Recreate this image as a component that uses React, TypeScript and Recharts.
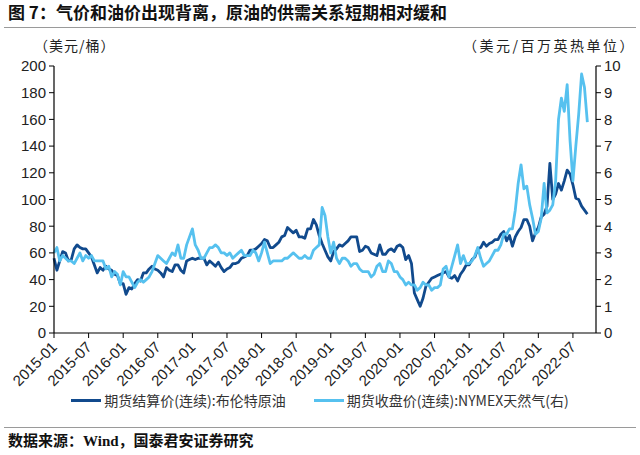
import React from 'react';
import { LineChart, Line, XAxis, YAxis } from 'recharts';

const title = '图 7：气价和油价出现背离，原油的供需关系短期相对缓和';
const leftUnit = '（美元/桶）';
const rightUnit = '（美元/百万英热单位）';
const source = '数据来源：Wind，国泰君安证券研究';
const seriesNames = ['期货结算价(连续):布伦特原油', '期货收盘价(连续):NYMEX天然气(右)'];
const seriesColors = ['#114a8d', '#56c1ef'];

const years = [2015, 2016, 2017, 2018, 2019, 2020, 2021, 2022];

// Brent settlement, USD/bbl — readings on the 1st and 16th of each month
const brent2015 = [56, 47, 54, 61, 60, 54, 55, 63, 66, 64, 63, 63, 60, 57, 51, 45, 49, 47, 50, 48, 47, 44, 43, 37];
const brent2016 = [37, 29, 34, 33, 37, 40, 39, 45, 45, 48, 50, 48, 47, 45, 42, 49, 47, 46, 51, 51, 47, 45, 54, 55];
const brent2017 = [56, 55, 56, 56, 56, 51, 54, 52, 50, 53, 49, 46, 48, 49, 52, 52, 53, 56, 57, 58, 62, 62, 63, 65];
const brent2018 = [67, 70, 69, 64, 64, 66, 68, 72, 73, 79, 77, 75, 77, 72, 72, 71, 78, 78, 85, 81, 73, 67, 62, 57];
const brent2019 = [54, 61, 63, 66, 65, 67, 69, 72, 72, 72, 61, 62, 65, 64, 60, 59, 58, 66, 59, 59, 62, 63, 61, 65];
const brent2020 = [66, 64, 55, 58, 52, 30, 25, 20, 26, 35, 38, 41, 42, 43, 44, 45, 46, 42, 41, 43, 39, 44, 47, 51];
const brent2021 = [51, 55, 57, 63, 64, 68, 65, 67, 68, 70, 70, 74, 76, 69, 73, 65, 72, 76, 79, 85, 85, 80, 69, 75];
const brent2022 = [79, 87, 89, 95, 127, 100, 104, 112, 107, 114, 122, 119, 111, 101, 100, 95, 92, 89];

// NYMEX natural gas close, USD/MMBtu — same reading dates
const gas2015 = [3.0, 3.2, 2.7, 2.9, 2.8, 2.7, 2.7, 2.6, 2.8, 3.0, 2.7, 2.9, 2.8, 2.9, 2.7, 2.7, 2.7, 2.7, 2.4, 2.5, 2.1, 2.3, 2.2, 1.8];
const gas2016 = [2.3, 2.1, 2.1, 1.9, 1.7, 1.9, 2.0, 1.9, 2.0, 2.1, 2.3, 2.6, 2.9, 2.8, 2.7, 2.6, 2.8, 3.0, 2.9, 3.3, 2.8, 2.8, 3.3, 3.6];
const gas2017 = [3.9, 3.3, 3.1, 2.8, 2.8, 3.0, 3.2, 3.2, 3.3, 3.2, 3.0, 3.0, 2.9, 3.0, 2.8, 2.9, 3.0, 3.1, 2.9, 2.9, 2.9, 3.1, 3.0, 2.7];
const gas2018 = [3.0, 3.4, 3.0, 2.6, 2.7, 2.7, 2.7, 2.7, 2.8, 2.8, 2.9, 3.0, 2.9, 2.8, 2.8, 2.9, 2.8, 2.8, 3.1, 3.2, 3.3, 4.7, 4.4, 3.6];
const gas2019 = [3.0, 3.4, 2.8, 2.6, 2.8, 2.8, 2.7, 2.5, 2.6, 2.6, 2.4, 2.3, 2.3, 2.3, 2.1, 2.2, 2.5, 2.6, 2.3, 2.3, 2.7, 2.6, 2.3, 2.3];
const gas2020 = [2.1, 2.0, 1.8, 1.9, 1.8, 1.8, 1.6, 1.7, 1.9, 1.8, 1.8, 1.6, 1.7, 1.7, 1.8, 2.4, 2.5, 2.1, 2.5, 2.9, 3.3, 2.6, 2.9, 2.6];
const gas2021 = [2.6, 2.7, 2.9, 3.2, 2.8, 2.5, 2.6, 2.7, 2.9, 3.1, 3.1, 3.3, 3.7, 3.7, 3.9, 3.9, 4.6, 5.6, 6.3, 5.4, 5.5, 4.8, 4.3, 3.7];
const gas2022 = [3.8, 4.3, 5.6, 4.5, 4.6, 4.8, 5.7, 8.0, 8.8, 8.3, 9.3, 7.2, 5.7, 7.0, 8.2, 9.7, 9.2, 7.9];

const brentByYear = [brent2015, brent2016, brent2017, brent2018, brent2019, brent2020, brent2021, brent2022];
const gasByYear = [gas2015, gas2016, gas2017, gas2018, gas2019, gas2020, gas2021, gas2022];

const xTickLabels = [
  '2015-01', '2015-07', '2016-01', '2016-07', '2017-01', '2017-07', '2018-01', '2018-07',
  '2019-01', '2019-07', '2020-01', '2020-07', '2021-01', '2021-07', '2022-01', '2022-07',
];
const leftTicks = [0, 20, 40, 60, 80, 100, 120, 140, 160, 180, 200];
const rightTicks = [0, 1, 2, 3, 4, 5, 6, 7, 8, 9, 10];

// months elapsed since 2015-01
const monthIndex = (label: string) => {
  const [y, m] = label.split('-').map(Number);
  return (y - years[0]) * 12 + (m - 1);
};
const xTicks = xTickLabels.map(monthIndex);
const labelAt = (v: number) => xTickLabels[xTicks.indexOf(v)] ?? '';

// two readings per month: the 1st and the 16th
const data = years.flatMap((year, yi) =>
  brentByYear[yi].map((b, i) => ({
    t: (year - years[0]) * 12 + i / 2,
    brent: b,
    gas: gasByYear[yi][i],
  }))
);

const tickFont = "'Liberation Sans', Arial, sans-serif";
const cjkFont = "'Noto Sans CJK SC', sans-serif";

const XTick = (props: any) => {
  const { x, y, payload } = props;
  const ax = x + 4;
  const ay = y + 8;
  return (
    <text
      x={ax}
      y={ay}
      transform={`rotate(-45 ${ax} ${ay})`}
      textAnchor="end"
      fontSize={15}
      fontFamily={tickFont}
      fill="#222"
    >
      {labelAt(payload.value)}
    </text>
  );
};

export default function App() {
  return (
    <div
      style={{
        position: 'absolute',
        left: 0,
        top: 0,
        width: 640,
        height: 455,
        background: '#fff',
        overflow: 'hidden',
      }}
    >
      <div
        style={{
          position: 'absolute',
          left: 8,
          top: 1,
          fontFamily: cjkFont,
          fontWeight: 700,
          fontSize: 17,
          lineHeight: '22px',
          color: '#111',
          whiteSpace: 'nowrap',
        }}
      >
        {title}
      </div>
      <div style={{ position: 'absolute', left: 4, right: 4, top: 27, height: 1, background: '#9a9a9a' }} />

      <div
        style={{
          position: 'absolute',
          left: 34,
          top: 36,
          fontFamily: cjkFont,
          fontSize: 14,
          letterSpacing: 1,
          lineHeight: '18px',
          color: '#222',
          whiteSpace: 'nowrap',
        }}
      >
        {leftUnit}
      </div>
      <div
        style={{
          position: 'absolute',
          right: 4,
          top: 36,
          fontFamily: cjkFont,
          fontSize: 14,
          letterSpacing: 2.5,
          lineHeight: '18px',
          color: '#222',
          whiteSpace: 'nowrap',
        }}
      >
        {rightUnit}
      </div>

      <div style={{ position: 'absolute', left: 0, top: 0 }}>
        <LineChart width={640} height={455} data={data} margin={{ top: 66, right: 0, bottom: 72, left: 0 }}>
          <XAxis
            type="number"
            dataKey="t"
            domain={[0, 94]}
            ticks={xTicks}
            interval={0}
            height={50}
            tick={<XTick />}
            tickSize={5}
            axisLine={{ stroke: '#000', strokeWidth: 1.2 }}
            tickLine={{ stroke: '#000' }}
          />
          <YAxis
            yAxisId="left"
            orientation="left"
            domain={[0, 200]}
            ticks={leftTicks}
            interval={0}
            width={54}
            tickSize={5}
            tickMargin={3}
            tick={{ fontSize: 15, fontFamily: tickFont, fill: '#222' }}
            axisLine={{ stroke: '#000', strokeWidth: 1.2 }}
            tickLine={{ stroke: '#000' }}
          />
          <YAxis
            yAxisId="right"
            orientation="right"
            domain={[0, 10]}
            ticks={rightTicks}
            interval={0}
            width={44}
            tickSize={5}
            tickMargin={3}
            tick={{ fontSize: 15, fontFamily: tickFont, fill: '#222' }}
            axisLine={{ stroke: '#000', strokeWidth: 1.2 }}
            tickLine={{ stroke: '#000' }}
          />
          <Line
            yAxisId="left"
            type="linear"
            dataKey="brent"
            name={seriesNames[0]}
            stroke={seriesColors[0]}
            strokeWidth={2.8}
            strokeLinejoin="round"
            dot={false}
            isAnimationActive={false}
          />
          <Line
            yAxisId="right"
            type="linear"
            dataKey="gas"
            name={seriesNames[1]}
            stroke={seriesColors[1]}
            strokeWidth={2.8}
            strokeLinejoin="round"
            dot={false}
            isAnimationActive={false}
          />
        </LineChart>
      </div>

      <div
        style={{
          position: 'absolute',
          left: 0,
          width: 640,
          top: 390,
          display: 'flex',
          justifyContent: 'center',
          alignItems: 'center',
          gap: 28,
          fontFamily: cjkFont,
          fontSize: 14,
          lineHeight: '20px',
          color: '#333',
        }}
      >
        {seriesNames.map((name, i) => (
          <div key={name} style={{ display: 'flex', alignItems: 'center', whiteSpace: 'nowrap' }}>
            <span style={{ display: 'inline-block', width: 30, height: 3, background: seriesColors[i], marginRight: 3 }} />
            {name}
          </div>
        ))}
      </div>

      <div style={{ position: 'absolute', left: 4, right: 4, top: 427, height: 1, background: '#9a9a9a' }} />
      <div
        style={{
          position: 'absolute',
          left: 8,
          top: 431,
          fontFamily: "'Liberation Serif', 'Noto Sans CJK SC', serif",
          fontWeight: 700,
          fontSize: 15,
          lineHeight: '20px',
          color: '#111',
          whiteSpace: 'nowrap',
        }}
      >
        {source}
      </div>
    </div>
  );
}
